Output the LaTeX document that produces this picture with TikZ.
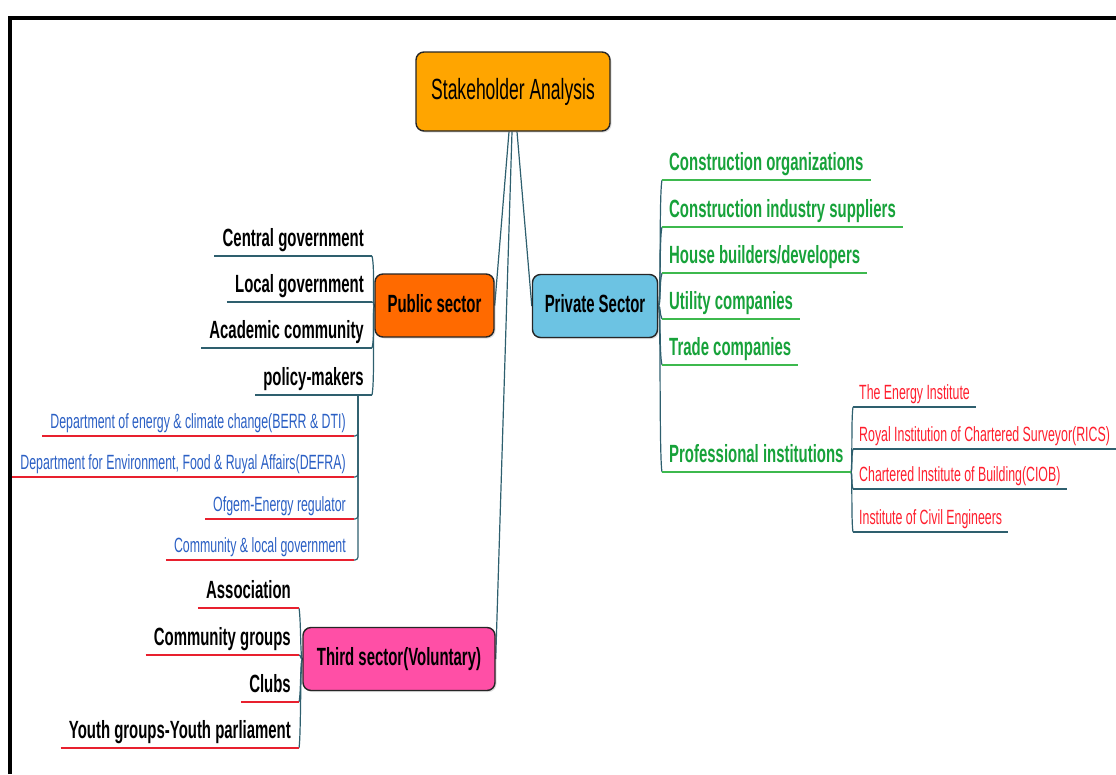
\documentclass[tikz,border=0pt]{standalone}
\usepackage{fontspec}
\setmainfont{Liberation Sans}[FakeStretch=0.6]
\usetikzlibrary{shadows,backgrounds}
\definecolor{conn}{HTML}{2E5F6E}
\definecolor{orangeA}{HTML}{FFA500}
\definecolor{orangeB}{HTML}{FF6A00}
\definecolor{skyB}{HTML}{6CC3E3}
\definecolor{pinkC}{HTML}{FF4FA6}
\definecolor{greenT}{HTML}{17A23A}
\definecolor{greenU}{HTML}{3DB94E}
\definecolor{blueT}{HTML}{2A5FC4}
\definecolor{redT}{HTML}{FF1E2D}
\definecolor{redU}{HTML}{E8202E}
\begin{document}
\begin{tikzpicture}[x=1pt,y=-1pt,
  conn/.style={draw=conn, line width=1.2pt},
  box/.style={draw=black!85, line width=1.4pt, rounded corners=8pt, align=center,
    drop shadow={opacity=0.25, shadow xshift=1.5pt, shadow yshift=-1.5pt}},
  bigf/.style={font=\bfseries\fontsize{24.9}{28}\selectfont, text height=18pt, text depth=5pt},
  smallf/.style={font=\fontsize{20.6}{23}\selectfont, text height=15pt, text depth=4.3pt},
  lc/.style={bigf, anchor=south east, inner xsep=8pt, inner ysep=4pt},
  rc/.style={bigf, anchor=south west, inner xsep=7pt, inner ysep=4pt},
  slc/.style={smallf, anchor=south east, inner xsep=8pt, inner ysep=3.5pt},
  src/.style={smallf, anchor=south west, inner xsep=6pt, inner ysep=3.5pt},
  ul/.style={append after command={(\tikzlastnode.south west) edge[draw=#1, line width=1.3pt] (\tikzlastnode.south east)}}
]
\useasboundingbox (0,0) rectangle (1116,774);
% frame
\draw[line width=4pt] (10,774) -- (10,18) -- (1118,18);

% main nodes
\node[box, fill=orangeA, minimum width=194pt, minimum height=79pt,
  font=\fontsize{29.2}{32}\selectfont] (sa) at (513,91.5) {Stakeholder Analysis};
\node[box, fill=orangeB, minimum width=119pt, minimum height=63pt, bigf] (ps) at (434.5,305.5) {Public sector};
\node[box, fill=skyB, minimum width=125pt, minimum height=63pt, bigf] (pv) at (595,306) {Private Sector};
\node[box, fill=pinkC, minimum width=192pt, minimum height=63pt, bigf] (ts) at (399,659) {Third sector(Voluntary)};

% public sector children
\node[lc, ul=conn] (cg) at (372,256) {Central government};
\node[lc, ul=conn] (lg) at (372,302) {Local government};
\node[lc, ul=conn] (ac) at (372,348) {Academic community};
\node[lc, ul=conn] (pm) at (372,395) {policy-makers};
\coordinate (pmj) at ([xshift=-14pt]pm.south east);

% policy-makers children
\node[slc, text=blueT, ul=redU] (b1) at (354,436) {Department of energy \& climate change(BERR \& DTI)};
\node[slc, text=blueT, ul=redU] (b2) at (354,477) {Department for Environment, Food \& Ruyal Affairs(DEFRA)};
\node[slc, text=blueT, ul=redU] (b3) at (354,519) {Ofgem-Energy regulator};
\node[slc, text=blueT, ul=redU] (b4) at (354,560) {Community \& local government};

% private sector children
\node[rc, text=greenT, ul=greenU] (p1) at (662,180) {Construction organizations};
\node[rc, text=greenT, ul=greenU] (p2) at (662,227) {Construction industry suppliers};
\node[rc, text=greenT, ul=greenU] (p3) at (662,273) {House builders/developers};
\node[rc, text=greenT, ul=greenU] (p4) at (662,319) {Utility companies};
\node[rc, text=greenT, ul=greenU] (p5) at (662,365) {Trade companies};
\node[rc, text=greenT, ul=greenU] (p6) at (662,472) {Professional institutions};

% professional institutions children
\node[src, text=redT, ul=conn] (r1) at (853,407) {The Energy Institute};
\node[src, text=redT, ul=conn] (r2) at (853,449) {Royal Institution of Chartered Surveyor(RICS)};
\node[src, text=redT, ul=conn] (r3) at (853,489) {Chartered Institute of Building(CIOB)};
\node[src, text=redT, ul=conn] (r4) at (853,532) {Institute of Civil Engineers};

% third sector children
\node[lc, ul=redU] (t1) at (299,608) {Association};
\node[lc, ul=redU] (t2) at (299,655) {Community groups};
\node[lc, ul=redU] (t3) at (299,702) {Clubs};
\node[lc, ul=redU] (t4) at (299,748) {Youth groups-Youth parliament};

\begin{scope}[on background layer]
% central connectors
\draw[conn] ([xshift=-4pt]sa.south) -- (ps.east);
\draw[conn] ([xshift=-1pt]sa.south) -- (ts.east);
\draw[conn] ([xshift=4pt]sa.south) -- (pv.west);
% public sector bracket
\draw[conn] (ps.west) .. controls +(-2,0) and +(3,12) .. (cg.south east);
\draw[conn] (ps.west) .. controls +(-2,0) and +(3,0) .. (lg.south east);
\draw[conn] (ps.west) .. controls +(-2,0) and +(3,-10) .. (ac.south east);
\draw[conn] (ps.west) .. controls +(-2,0) and +(3,-14) .. (pm.south east);
% policy-makers bracket
\draw[conn, rounded corners=3pt] (pmj) |- (b1.south east);
\draw[conn, rounded corners=3pt] (pmj) |- (b2.south east);
\draw[conn, rounded corners=3pt] (pmj) |- (b3.south east);
\draw[conn, rounded corners=3pt] (pmj) |- (b4.south east);
% private sector bracket
\draw[conn] (pv.east) .. controls +(3,0) and +(-3,14) .. (p1.south west);
\draw[conn] (pv.east) .. controls +(3,0) and +(-3,12) .. (p2.south west);
\draw[conn] (pv.east) .. controls +(3,0) and +(-3,10) .. (p3.south west);
\draw[conn] (pv.east) .. controls +(3,0) and +(-3,-6) .. (p4.south west);
\draw[conn] (pv.east) .. controls +(3,0) and +(-3,-12) .. (p5.south west);
\draw[conn] (pv.east) .. controls +(3,0) and +(-3,-16) .. (p6.south west);
% professional institutions bracket
\draw[conn] (p6.south east) .. controls +(2,0) and +(-2,12) .. (r1.south west);
\draw[conn] (p6.south east) .. controls +(2,0) and +(-2,8) .. (r2.south west);
\draw[conn] (p6.south east) .. controls +(2,0) and +(-2,-6) .. (r3.south west);
\draw[conn] (p6.south east) .. controls +(2,0) and +(-2,-12) .. (r4.south west);
% third sector bracket
\draw[conn] (ts.west) .. controls +(-2,0) and +(2,12) .. (t1.south east);
\draw[conn] (ts.west) .. controls +(-2,0) and +(2,0) .. (t2.south east);
\draw[conn] (ts.west) .. controls +(-2,0) and +(2,-8) .. (t3.south east);
\draw[conn] (ts.west) .. controls +(-2,0) and +(2,-12) .. (t4.south east);
\end{scope}
\end{tikzpicture}
\end{document}
